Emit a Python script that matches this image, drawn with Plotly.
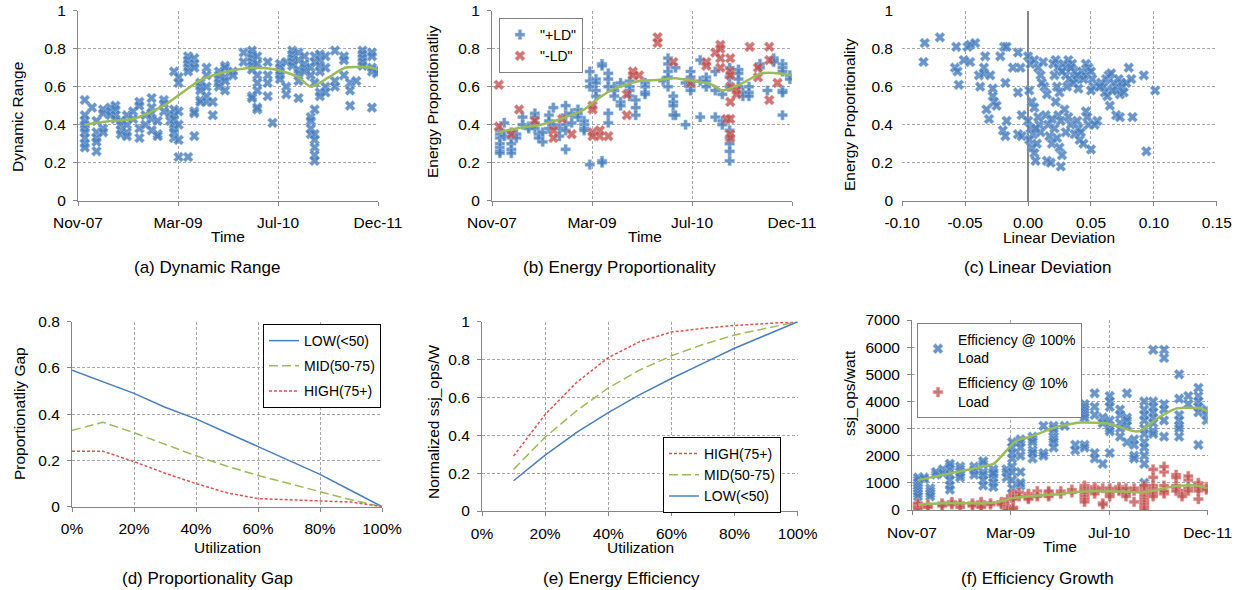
import plotly.graph_objects as go

# ---------------- data ----------------
# (a) Dynamic Range over time
a_dates = ["2007-12-05", "2008-01-10", "2008-02-01", "2008-03-05", "2008-04-10", "2008-05-05",
           "2008-06-01", "2008-07-01", "2008-08-01", "2008-09-01", "2008-10-01", "2008-11-01",
           "2008-12-01", "2009-01-01", "2009-02-01", "2009-02-20", "2009-03-15", "2009-05-01",
           "2009-06-01", "2009-07-01", "2009-08-01", "2009-09-01", "2009-10-01", "2009-11-01",
           "2009-12-10", "2010-02-01", "2010-03-15", "2010-04-10", "2010-06-01", "2010-06-25",
           "2010-08-01", "2010-09-01", "2010-10-01", "2010-11-01", "2010-12-01", "2011-01-01",
           "2011-01-20", "2011-02-15", "2011-03-15", "2011-05-01", "2011-06-15", "2011-07-15",
           "2011-08-15", "2011-09-15", "2011-11-01", "2011-11-25"]
a_values = [[0.40, 0.38, 0.36, 0.33, 0.30, 0.28, 0.42, 0.45, 0.53], [0.49],
            [0.42, 0.36, 0.33, 0.31, 0.26], [0.48, 0.46, 0.38, 0.36], [0.49, 0.47, 0.45],
            [0.50, 0.48, 0.45, 0.43], [0.42, 0.40, 0.37, 0.35], [0.45, 0.40, 0.36, 0.34],
            [0.47, 0.43], [0.52, 0.50, 0.38, 0.33], [0.45, 0.40], [0.54, 0.49, 0.46, 0.43, 0.37],
            [0.42, 0.35, 0.34], [0.53, 0.51, 0.47], [0.46, 0.42],
            [0.68, 0.48, 0.45, 0.43, 0.40, 0.38, 0.36, 0.33], [0.65, 0.62, 0.47, 0.40, 0.32, 0.23],
            [0.76, 0.74, 0.72, 0.70, 0.68, 0.23], [0.75, 0.72, 0.70, 0.47, 0.46, 0.34],
            [0.62, 0.60, 0.58, 0.53, 0.52], [0.70, 0.66, 0.60, 0.55, 0.52], [0.52, 0.45],
            [0.68, 0.66, 0.64, 0.62, 0.60], [0.58, 0.71, 0.70, 0.65, 0.63], [0.68, 0.66],
            [0.78, 0.73], [0.79, 0.77, 0.75, 0.73, 0.71, 0.69, 0.55, 0.54],
            [0.76, 0.72, 0.66, 0.62, 0.58, 0.48, 0.49], [0.73, 0.66, 0.62, 0.55], [0.41],
            [0.72, 0.70, 0.68, 0.66, 0.64], [0.60, 0.56, 0.73], [0.79, 0.77, 0.75, 0.73, 0.71],
            [0.69, 0.67, 0.63, 0.54, 0.78, 0.74], [0.76, 0.72, 0.70, 0.68],
            [0.44, 0.42, 0.38, 0.35, 0.70, 0.66],
            [0.48, 0.35, 0.32, 0.28, 0.24, 0.21, 0.62, 0.76, 0.73],
            [0.77, 0.74, 0.71, 0.68, 0.57, 0.55], [0.76, 0.70, 0.60, 0.57], [0.79, 0.63, 0.60],
            [0.76, 0.74, 0.66], [0.62, 0.58, 0.50], [0.63], [0.79, 0.77, 0.75, 0.73, 0.71],
            [0.78, 0.76, 0.70, 0.68, 0.49], [0.69, 0.67]]
a_trend_dates = ["2007-12-05", "2008-04-10", "2008-08-01", "2009-01-01", "2009-07-01", "2009-11-15",
                 "2010-03-20", "2010-07-15", "2010-11-01", "2011-01-01", "2011-04-01", "2011-06-20",
                 "2011-11-01", "2011-12-01"]
a_trend = [0.40, 0.42, 0.43, 0.50, 0.635, 0.68, 0.70, 0.69, 0.65, 0.60, 0.65, 0.70, 0.70, 0.69]

# (b) Energy Proportionality over time
b_plus_dates = ["2007-12-10", "2008-01-01", "2008-02-05", "2008-03-01", "2008-04-01", "2008-05-01",
                "2008-06-01", "2008-06-20", "2008-07-10", "2008-08-10", "2008-09-01", "2008-10-01",
                "2008-11-01", "2008-12-01", "2009-01-01", "2009-02-01", "2009-03-01", "2009-04-01",
                "2009-05-01", "2009-06-01", "2009-07-01", "2009-08-01", "2009-09-15", "2009-10-15",
                "2009-12-01", "2010-03-01", "2010-03-25", "2010-04-20", "2010-05-01", "2010-06-20",
                "2010-07-15", "2010-09-01", "2010-10-01", "2010-11-15", "2010-12-20", "2011-01-25",
                "2011-03-10", "2011-04-01", "2011-05-01", "2011-06-25", "2011-08-01", "2011-09-01",
                "2011-10-15", "2011-11-20"]
b_plus_values = [[0.37, 0.35, 0.33, 0.30, 0.28, 0.26, 0.25], [0.41, 0.34],
                 [0.36, 0.33, 0.30, 0.27, 0.25], [0.35, 0.33], [0.44, 0.40], [0.39, 0.38],
                 [0.46, 0.44, 0.41, 0.38], [0.35, 0.33], [0.36, 0.31], [0.45, 0.42, 0.38],
                 [0.49, 0.40], [0.38, 0.34], [0.50, 0.45, 0.40, 0.37, 0.27], [0.46, 0.41],
                 [0.48, 0.46, 0.44], [0.42, 0.40, 0.38, 0.37], [0.68, 0.63, 0.60, 0.19],
                 [0.64, 0.62, 0.58, 0.55], [0.72, 0.71, 0.21, 0.20], [0.67, 0.64, 0.60, 0.46, 0.41],
                 [0.60, 0.58, 0.55], [0.52, 0.50, 0.62], [0.63, 0.60, 0.58, 0.55],
                 [0.53, 0.49, 0.45], [0.62, 0.60, 0.57, 0.56], [0.63],
                 [0.75, 0.72, 0.68, 0.65, 0.60], [0.55, 0.52, 0.50, 0.45], [0.70, 0.45],
                 [0.40, 0.62], [0.68, 0.65, 0.62, 0.60, 0.58], [0.44, 0.74, 0.63],
                 [0.65, 0.63, 0.60], [0.58, 0.68, 0.44], [0.42, 0.40, 0.56],
                 [0.37, 0.33, 0.30, 0.26, 0.21, 0.60, 0.65, 0.70], [0.69, 0.67, 0.64, 0.60],
                 [0.57, 0.55], [0.60, 0.57, 0.55], [0.72, 0.70], [0.58], [0.75, 0.74, 0.73],
                 [0.72, 0.70, 0.68, 0.58, 0.57, 0.45], [0.66, 0.64]]
b_minus_dates = ["2007-12-05", "2008-02-05", "2008-03-15", "2008-06-01", "2008-09-01", "2008-10-15",
                 "2008-12-01", "2009-03-15", "2009-04-20", "2009-06-01", "2009-09-01", "2009-10-01",
                 "2009-11-01", "2010-02-01", "2010-04-20", "2010-07-15", "2010-10-01", "2010-11-15",
                 "2010-12-10", "2011-01-10", "2011-01-28", "2011-03-01", "2011-05-05", "2011-06-15",
                 "2011-08-10", "2011-09-20"]
b_minus_values = [[0.61, 0.39], [0.35], [0.48], [0.42], [0.37, 0.33], [0.43], [0.35],
                  [0.50, 0.48, 0.36, 0.34], [0.37, 0.34], [0.34], [0.56, 0.45], [0.68, 0.66],
                  [0.66], [0.86, 0.83], [0.73], [0.62], [0.73, 0.71], [0.78],
                  [0.82, 0.80, 0.75, 0.70], [0.43],
                  [0.75, 0.68, 0.66, 0.60, 0.52, 0.43, 0.35, 0.33], [0.58, 0.56], [0.81],
                  [0.70, 0.65], [0.81, 0.74, 0.53], [0.62]]
b_trend_dates = ["2007-12-05", "2008-03-01", "2008-07-01", "2008-11-01", "2009-02-01", "2009-04-01",
                 "2009-07-01", "2009-11-01", "2010-02-01", "2010-05-01", "2010-08-01", "2010-11-01",
                 "2010-12-20", "2011-04-01", "2011-07-01", "2011-10-01", "2011-12-01"]
b_trend = [0.36, 0.38, 0.40, 0.44, 0.48, 0.53, 0.59, 0.63, 0.635, 0.645, 0.63, 0.61, 0.58, 0.62,
           0.67, 0.67, 0.66]

# (c) Energy Proportionality vs Linear Deviation
c_deviation = [-0.082, -0.083, -0.070, -0.057, -0.058, -0.056, -0.055, -0.051, -0.048, -0.046,
               -0.046, -0.042, -0.039, -0.038, -0.035, -0.034, -0.035, -0.033, -0.031, -0.030,
               -0.028, -0.028, -0.027, -0.025, -0.022, -0.019, -0.017, -0.018, -0.020, -0.018,
               -0.017, -0.012, -0.008, -0.008, -0.006, -0.005, -0.008, -0.005,
               0.000, 0.002, 0.005, 0.008, 0.010, 0.012, 0.001, 0.003, 0.005, 0.000, 0.002, 0.004,
               0.001, 0.003, 0.005, 0.006, 0.007, 0.009, 0.010, 0.008,
               0.013, 0.015, 0.014, 0.015, 0.018, 0.016, 0.017, 0.019,
               0.020, 0.022, 0.024, 0.021, 0.023, 0.025, 0.022, 0.024, 0.026, 0.021, 0.023, 0.025,
               0.027, 0.026, 0.028, 0.030, 0.032, 0.030, 0.033, 0.031, 0.029, 0.032, 0.034, 0.030,
               0.035, 0.037, 0.038, 0.036, 0.039, 0.040, 0.037, 0.041, 0.044, 0.042,
               0.043, 0.045, 0.046, 0.048, 0.040, 0.046, 0.047, 0.048,
               0.050, 0.051, 0.052, 0.050, 0.050, 0.055, 0.053,
               0.058, 0.060, 0.062, 0.064, 0.061, 0.063, 0.065, 0.066,
               0.068, 0.070, 0.072, 0.074, 0.071, 0.073, 0.075, 0.070, 0.073, 0.078, 0.080, 0.082,
               0.083, 0.092, 0.094, 0.101,
               0.006, 0.011, 0.019, 0.027, 0.034, 0.039, 0.044, 0.057, 0.067, 0.076]
c_proportionality = [0.83, 0.73, 0.86, 0.81, 0.70, 0.68, 0.61, 0.74, 0.81, 0.82,
                     0.73, 0.83, 0.66, 0.60, 0.70, 0.76, 0.67, 0.48, 0.43, 0.66,
                     0.59, 0.55, 0.52, 0.50, 0.76, 0.81, 0.81, 0.62, 0.37, 0.34,
                     0.42, 0.70, 0.78, 0.57, 0.70, 0.45, 0.35, 0.34,
                     0.76, 0.72, 0.74, 0.70, 0.66, 0.73, 0.58, 0.52, 0.49, 0.42, 0.38, 0.35,
                     0.32, 0.28, 0.25, 0.21, 0.30, 0.40, 0.36, 0.44,
                     0.60, 0.56, 0.45, 0.21, 0.20, 0.40, 0.34, 0.30,
                     0.72, 0.74, 0.70, 0.66, 0.60, 0.57, 0.52, 0.45, 0.42, 0.38, 0.33, 0.28,
                     0.24, 0.18, 0.72, 0.70, 0.74, 0.66, 0.64, 0.60, 0.48, 0.44, 0.40, 0.36,
                     0.72, 0.68, 0.64, 0.62, 0.42, 0.38, 0.35, 0.32, 0.30, 0.36,
                     0.68, 0.66, 0.72, 0.70, 0.59, 0.47, 0.44, 0.40,
                     0.68, 0.64, 0.60, 0.58, 0.27, 0.42, 0.40,
                     0.62, 0.60, 0.64, 0.66, 0.57, 0.55, 0.50, 0.67,
                     0.62, 0.60, 0.64, 0.62, 0.58, 0.56, 0.60, 0.45, 0.44, 0.62, 0.70, 0.64,
                     0.44, 0.66, 0.26, 0.58,
                     0.38, 0.62, 0.43, 0.68, 0.70, 0.66, 0.64, 0.60, 0.58, 0.57]

# (d) Proportionality Gap and (e) Energy Efficiency vs utilization
utilization = [0.0, 0.1, 0.2, 0.3, 0.4, 0.5, 0.6, 0.7, 0.8, 0.9, 1.0]
gap_low = [0.59, 0.54, 0.49, 0.43, 0.38, 0.32, 0.26, 0.20, 0.14, 0.07, 0.0]
gap_mid = [0.33, 0.365, 0.32, 0.27, 0.22, 0.175, 0.135, 0.10, 0.065, 0.03, 0.0]
gap_high = [0.24, 0.24, 0.195, 0.145, 0.10, 0.06, 0.035, 0.03, 0.025, 0.02, 0.0]
eff_util = [0.1, 0.2, 0.3, 0.4, 0.5, 0.6, 0.7, 0.8, 0.9, 1.0]
eff_high = [0.29, 0.51, 0.68, 0.81, 0.895, 0.945, 0.965, 0.98, 0.99, 1.0]
eff_mid = [0.22, 0.39, 0.53, 0.65, 0.745, 0.82, 0.88, 0.93, 0.965, 1.0]
eff_low = [0.16, 0.295, 0.415, 0.52, 0.615, 0.70, 0.78, 0.86, 0.93, 1.0]

# (f) Efficiency Growth (ssj_ops/watt)
f100_dates = ["2007-12-01", "2008-01-01", "2008-02-01", "2008-03-01", "2008-04-05", "2008-05-10",
              "2008-07-01", "2008-09-10", "2008-10-25", "2008-12-15", "2009-02-20", "2009-03-20",
              "2009-05-01", "2009-07-01", "2009-08-25", "2009-10-15", "2009-12-10", "2010-02-01",
              "2010-03-20", "2010-05-10", "2010-06-20", "2010-07-25", "2010-09-15", "2010-10-20",
              "2010-11-25", "2011-01-15", "2011-03-01", "2011-04-25", "2011-07-10", "2011-08-25",
              "2011-10-15", "2011-11-25"]
f100_values = [[1100, 1000, 900, 800, 700, 600, 500, 1200], [1200, 1150], [800, 700, 600, 500],
               [1300, 1400], [1500, 1350], [1600, 1500, 1300, 1100, 900, 750, 1700],
               [1600, 1500, 1400, 1300, 1200], [1600, 1500, 1450, 1300],
               [1400, 1300, 1100, 900, 1700, 1800], [1500, 1400, 1300, 1200, 1000, 850, 1350],
               [1500, 1400, 1200], [2300, 2100, 1900, 1600, 1400, 1100, 800, 600, 2500],
               [2600, 2500, 2300, 2000, 900, 1000, 1400], [2700, 2600, 2500, 2200, 1900, 2100],
               [3100, 2100, 2000], [2900, 2700, 2600, 2500, 2300, 3100, 3000], [3100],
               [2400, 2200], [3900, 3800, 3700, 3600, 3500, 3400, 2400, 2300],
               [3800, 3500, 4300, 2100, 1900], [3400, 3200, 1700],
               [4200, 4000, 3800, 3300, 3000, 2900, 2100], [3700, 3500, 3200, 3000, 2700],
               [3400, 3300, 3100, 2500, 4300], [2600, 2400, 2000, 1900],
               [4000, 3700, 3500, 3300, 2500, 2300, 2000, 1700, 1000, 3000, 2800],
               [4000, 3800, 3600, 3400, 3200, 2900, 2800, 5900],
               [3900, 3700, 2700, 5900, 5600, 3300], [4100, 3500, 3300, 3100, 3000, 2700, 5000],
               [4200, 3900], [4500, 4200, 4000, 3800, 3600, 2400], [3700, 3500, 3300]]
f100_trend_dates = ["2007-12-01", "2008-05-10", "2008-10-25", "2008-12-20", "2009-02-20",
                    "2009-04-10", "2009-06-20", "2009-10-25", "2010-03-01", "2010-07-25",
                    "2010-12-15", "2011-04-05", "2011-06-28", "2011-10-20", "2011-12-01"]
f100_trend = [1100, 1350, 1600, 1720, 2200, 2550, 2700, 3050, 3220, 3170, 2890, 3440, 3745,
              3745, 3620]
f10_dates = ["2007-12-01", "2008-01-20", "2008-04-01", "2008-05-20", "2008-07-01", "2008-09-01",
             "2008-10-15", "2008-12-01", "2009-01-25", "2009-02-25", "2009-03-25", "2009-04-25",
             "2009-06-10", "2009-07-25", "2009-09-20", "2009-11-20", "2010-01-15", "2010-03-20",
             "2010-05-10", "2010-06-20", "2010-07-25", "2010-09-10", "2010-10-15", "2010-11-25",
             "2011-01-15", "2011-03-01", "2011-04-25", "2011-06-25", "2011-07-25", "2011-08-25",
             "2011-10-15", "2011-11-25"]
f10_values = [[200, 150, 100, 50, 250], [200, 150, 100], [250, 200, 150], [300, 250, 200],
              [250, 200, 100], [250, 200, 150], [300, 250, 200, 150, 100], [250, 200],
              [300, 250, 200], [400, 150, 50, 0], [600, 550, 500, 450, 400, 100, 50], [650, 500],
              [600, 550, 500, 450, 400], [700, 550, 500], [650, 600, 550, 500, 700], [700, 600],
              [750, 650], [900, 850, 800, 750, 700, 600, 500, 400, 300],
              [850, 800, 750, 700, 600], [250, 200, 800], [800, 750, 700, 600, 500],
              [850, 800, 750, 700], [650, 600, 500, 800], [800, 700, 300],
              [800, 700, 600, 500, 400, 300, 200, 100, 0, 900],
              [900, 800, 700, 600, 500, 1500, 1200], [600, 650, 700, 1400, 1600, 900],
              [1300, 1200, 900, 800, 700], [600, 500], [1100, 1250, 800, 700],
              [1000, 950, 900, 800, 700, 400], [850, 800, 750]]
f10_trend_dates = ["2007-12-01", "2008-04-01", "2008-09-01", "2009-01-01", "2009-03-01",
                   "2009-05-01", "2009-08-01", "2009-11-01", "2010-02-01", "2010-05-01",
                   "2010-08-01", "2010-11-01", "2011-01-15", "2011-04-01", "2011-07-01",
                   "2011-10-01", "2011-12-01"]
f10_trend = [200, 250, 250, 280, 400, 480, 530, 580, 660, 690, 690, 670, 650, 760, 880, 900, 800]

time_range = ["2007-11-01", "2011-12-01"]
time_ticks = ["2007-11-01", "2009-03-12", "2010-07-22", "2011-12-01"]
time_labels = ["Nov-07", "Mar-09", "Jul-10", "Dec-11"]

# ---------------- styling ----------------
W, H = 1243, 590
FONT = "Arial, 'Liberation Sans', sans-serif"
TICK_SIZE = 15.5
TITLE_SIZE = 15.5
CAPTION_SIZE = 17
LEGEND_SIZE = 14
BLUE = "#4a7ebb"
BLUE_M = "rgba(74,126,187,0.82)"
RED_M = "rgba(192,80,77,0.78)"
RED_L = "#d9534f"
GREEN = "#9bbb59"


def flatten(dates, groups):
    xs, ys = [], []
    for d, g in zip(dates, groups):
        for v in g:
            xs.append(d)
            ys.append(v)
    return xs, ys


def hx(px):
    return px / W


def vy(py):
    return 1 - py / H


def axis(**kw):
    d = dict(showgrid=True, gridcolor="#a6a6a6", griddash="3px,2px", gridwidth=1,
             showline=True, linecolor="#868686", linewidth=1, ticks="outside", ticklen=4,
             tickcolor="#868686", zeroline=False, automargin=False,
             tickfont=dict(size=TICK_SIZE, color="black", family=FONT), fixedrange=True)
    d.update(kw)
    return d


def time_axis(dom, anchor):
    return axis(type="date", domain=dom, anchor=anchor, range=time_range, tickvals=time_ticks,
                ticktext=time_labels, ticklabelstandoff=4)


xmark = dict(symbol="x", size=9, color=BLUE_M, line=dict(width=0.6, color="rgba(150,190,232,0.9)"))

fig = go.Figure()

# (a)
ax, ay = flatten(a_dates, a_values)
fig.add_trace(go.Scatter(x=ax, y=ay, mode="markers", marker=xmark, showlegend=False,
                         xaxis="x", yaxis="y"))
fig.add_trace(go.Scatter(x=a_trend_dates, y=a_trend, mode="lines",
                         line=dict(color=GREEN, width=2.5, shape="spline", smoothing=0.6),
                         showlegend=False, xaxis="x", yaxis="y"))

# (b)
bx, by = flatten(b_plus_dates, b_plus_values)
fig.add_trace(go.Scatter(x=bx, y=by, mode="markers", name='"+LD"',
                         marker=dict(symbol="cross", size=8, color=BLUE_M,
                                     line=dict(width=0.6, color="rgba(150,190,232,0.9)")),
                         xaxis="x2", yaxis="y2", legend="legend"))
bmx, bmy = flatten(b_minus_dates, b_minus_values)
fig.add_trace(go.Scatter(x=bmx, y=bmy, mode="markers", name='"-LD"',
                         marker=dict(symbol="x", size=9, color=RED_M,
                                     line=dict(width=0.6, color="rgba(230,160,160,0.9)")),
                         xaxis="x2", yaxis="y2", legend="legend"))
fig.add_trace(go.Scatter(x=b_trend_dates, y=b_trend, mode="lines",
                         line=dict(color=GREEN, width=2.5, shape="spline", smoothing=0.6),
                         showlegend=False, xaxis="x2", yaxis="y2"))

# (c)
fig.add_trace(go.Scatter(x=c_deviation, y=c_proportionality, mode="markers", marker=xmark,
                         showlegend=False, xaxis="x3", yaxis="y3"))

# (d)
fig.add_trace(go.Scatter(x=utilization, y=gap_low, mode="lines", name="LOW(<50)",
                         line=dict(color=BLUE, width=1.5), xaxis="x4", yaxis="y4",
                         legend="legend2", legendgroup="d1"))
fig.add_trace(go.Scatter(x=utilization, y=gap_mid, mode="lines", name="MID(50-75)",
                         line=dict(color=GREEN, width=1.5, dash="9px,4px"), xaxis="x4",
                         yaxis="y4", legend="legend2", legendgroup="d2"))
fig.add_trace(go.Scatter(x=utilization, y=gap_high, mode="lines", name="HIGH(75+)",
                         line=dict(color=RED_L, width=1.5, dash="3px,2px"), xaxis="x4",
                         yaxis="y4", legend="legend2", legendgroup="d3"))

# (e)
fig.add_trace(go.Scatter(x=eff_util, y=eff_high, mode="lines", name="HIGH(75+)",
                         line=dict(color=RED_L, width=1.5, dash="3px,2px"), xaxis="x5",
                         yaxis="y5", legend="legend3"))
fig.add_trace(go.Scatter(x=eff_util, y=eff_mid, mode="lines", name="MID(50-75)",
                         line=dict(color=GREEN, width=1.5, dash="9px,4px"), xaxis="x5",
                         yaxis="y5", legend="legend3"))
fig.add_trace(go.Scatter(x=eff_util, y=eff_low, mode="lines", name="LOW(<50)",
                         line=dict(color=BLUE, width=1.5), xaxis="x5", yaxis="y5",
                         legend="legend3"))

# (f)
f1x, f1y = flatten(f100_dates, f100_values)
fig.add_trace(go.Scatter(x=f1x, y=f1y, mode="markers", name="Efficiency @ 100%<br>Load",
                         marker=xmark, xaxis="x6", yaxis="y6", legend="legend4",
                         legendgroup="f1"))
f2x, f2y = flatten(f10_dates, f10_values)
fig.add_trace(go.Scatter(x=f2x, y=f2y, mode="markers", name="Efficiency @ 10%<br>Load",
                         marker=dict(symbol="cross", size=8, color=RED_M,
                                     line=dict(width=0.6, color="rgba(230,160,160,0.9)")),
                         xaxis="x6", yaxis="y6", legend="legend4", legendgroup="f2"))
fig.add_trace(go.Scatter(x=f100_trend_dates, y=f100_trend, mode="lines",
                         line=dict(color=GREEN, width=2.5, shape="spline", smoothing=0.6),
                         showlegend=False, xaxis="x6", yaxis="y6"))
fig.add_trace(go.Scatter(x=f10_trend_dates, y=f10_trend, mode="lines",
                         line=dict(color=GREEN, width=2.5, shape="spline", smoothing=0.6),
                         showlegend=False, xaxis="x6", yaxis="y6"))

# ---------------- layout ----------------
top_y = [vy(200.7), vy(10.7)]
dom_a = [hx(78), hx(378)]
dom_b = [hx(492), hx(792)]
dom_c = [hx(902), hx(1217)]
dom_d = [hx(72), hx(382)]
dom_e = [hx(482), hx(797.7)]
dom_f = [hx(912), hx(1207.7)]

pct = dict(range=[0, 1], dtick=0.2, tickformat=".0%", ticklabelstandoff=4)

legend_common = dict(bgcolor="white", borderwidth=1,
                     font=dict(size=LEGEND_SIZE, family=FONT, color="black"),
                     xanchor="left", yanchor="top", itemwidth=30, tracegroupgap=4)

fig.update_layout(
    template="none",
    width=W, height=H, autosize=False,
    margin=dict(l=0, r=0, t=0, b=0),
    paper_bgcolor="white", plot_bgcolor="white",
    font=dict(family=FONT, size=14, color="black"),
    xaxis=time_axis(dom_a, "y"),
    yaxis=axis(domain=top_y, anchor="x", range=[0, 1], dtick=0.2, ticklabelstandoff=4),
    xaxis2=time_axis(dom_b, "y2"),
    yaxis2=axis(domain=top_y, anchor="x2", range=[0, 1], dtick=0.2, ticklabelstandoff=4),
    xaxis3=axis(domain=dom_c, anchor="y3", range=[-0.1001, 0.1501],
                tickvals=[-0.10, -0.05, 0.0, 0.05, 0.10, 0.15],
                ticktext=["-0.10", "-0.05", "0.00", "0.05", "0.10", "0.15"],
                zeroline=True, zerolinecolor="#868686", zerolinewidth=1.5, ticklabelstandoff=4),
    yaxis3=axis(domain=top_y, anchor="x3", range=[0, 1], dtick=0.2, showline=False,
                ticks="", ticklabelstandoff=8),
    xaxis4=axis(domain=dom_d, anchor="y4", **pct),
    yaxis4=axis(domain=[vy(506.7), vy(321.7)], anchor="x4", range=[0, 0.8], dtick=0.2,
                ticklabelstandoff=4),
    xaxis5=axis(domain=dom_e, anchor="y5", **pct),
    yaxis5=axis(domain=[vy(511), vy(321.7)], anchor="x5", range=[0, 1], dtick=0.2,
                ticklabelstandoff=4),
    xaxis6=time_axis(dom_f, "y6"),
    yaxis6=axis(domain=[vy(510), vy(320)], anchor="x6", range=[0, 7000], dtick=1000,
                tickformat="d", ticklabelstandoff=4),
    legend=dict(legend_common, x=hx(499), y=vy(18), bordercolor="#7f7f7f"),
    legend2=dict(legend_common, x=hx(381), xanchor="right", y=vy(324), bordercolor="black"),
    legend3=dict(legend_common, x=hx(781), xanchor="right", y=vy(437), bordercolor="black"),
    legend4=dict(legend_common, x=hx(917), y=vy(323), bordercolor="#7f7f7f"),
)

annots = []


def text(t, x, y, size, angle=0):
    annots.append(dict(text=t, x=hx(x), y=vy(y), xref="paper", yref="paper", showarrow=False,
                       xanchor="center", yanchor="middle", textangle=angle,
                       font=dict(size=size, family=FONT, color="black")))


# captions
text("(a) Dynamic Range", 207, 267, CAPTION_SIZE)
text("(b) Energy Proportionality", 619, 267, CAPTION_SIZE)
text("(c) Linear Deviation", 1037, 267, CAPTION_SIZE)
text("(d) Proportionality Gap", 207, 578, CAPTION_SIZE)
text("(e) Energy Efficiency", 621, 578, CAPTION_SIZE)
text("(f) Efficiency Growth", 1037, 578, CAPTION_SIZE)
# axis titles
text("Time", 228, 236, TITLE_SIZE)
text("Dynamic Range", 18, 117, TITLE_SIZE, -90)
text("Time", 645, 236, TITLE_SIZE)
text("Energy Proportionatliy", 433, 102, TITLE_SIZE, -90)
text("Linear Deviation", 1059, 237, TITLE_SIZE)
text("Energy Proportionality", 849, 114, TITLE_SIZE, -90)
text("Utilization", 227, 547, TITLE_SIZE)
text("Proportionatliy Gap", 19, 414, TITLE_SIZE, -90)
text("Utilization", 640, 547, TITLE_SIZE)
text("Normalized ssj_ops/W", 433, 422, TITLE_SIZE, -90)
text("Time", 1060, 546, TITLE_SIZE)
text("ssj_ops/watt", 849, 393, TITLE_SIZE, -90)

fig.update_layout(annotations=annots)

# remove the browser's default page margin so the figure fills the window exactly
fig.write_html("out.html",
               config={"displayModeBar": False},
               post_script="document.body.style.margin='0';document.body.style.overflow='hidden';")
